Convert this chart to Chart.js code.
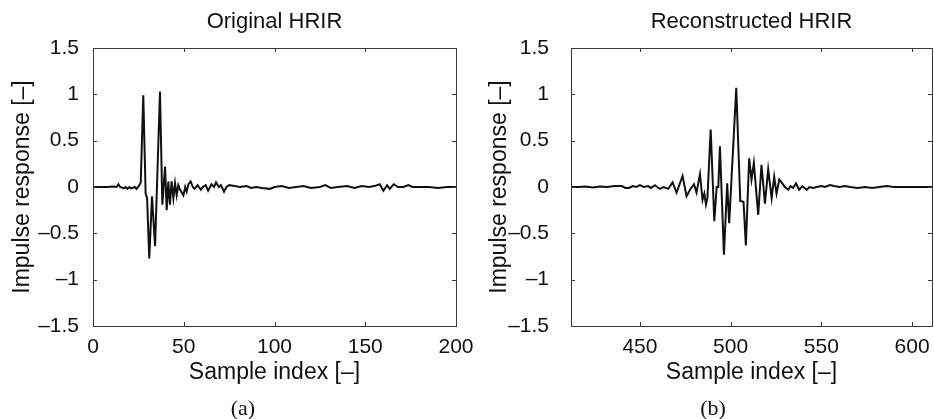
<!DOCTYPE html>
<html>
<head>
<meta charset="utf-8">
<script src="https://cdn.jsdelivr.net/npm/chart.js@4"></script>
<style>
  body { margin: 0; background: #fff; }
  #wrap { position: relative; width: 934px; height: 419px; overflow: hidden; }
  canvas { position: absolute; top: 0; }
  .cap { position: absolute; top: 397px; width: 100px; text-align: center;
         font: 22px/22px "Liberation Serif", "DejaVu Serif", serif; color: #111; }
</style>
</head>
<body>
<div id="wrap">
  <canvas id="left" width="480" height="419" style="left:0"></canvas>
  <canvas id="right" width="467" height="419" style="left:467px"></canvas>
  <div class="cap" style="left:193px">(a)</div>
  <div class="cap" style="left:663px">(b)</div>
</div>
<script>
// values (sample index, impulse response)
const origIdx = [0, 8, 11, 13, 14, 15, 17, 18, 19, 20, 21, 23, 24, 25.5, 26.3, 27.7, 29, 29.8, 31, 32.5,
    34.2, 36.9, 38.2, 39.7, 40.6, 41.5, 42.4, 43.3, 44.3, 45.2, 46.1, 47, 48, 49.8, 50.8, 51.6, 52.6,
    53.8, 55, 56, 57.6, 59.4, 60.5, 62.1, 63.4, 65.3, 66.7, 67.8, 69.4, 70.5, 72.2, 73.5, 75, 78, 81,
    84.7, 87, 90, 93, 97.5, 100, 104, 108, 112, 116, 120, 125, 128, 131, 135, 140, 144, 148, 152, 155,
    158, 160, 162, 163.5, 165.7, 168, 171, 173.8, 176, 180, 185, 190, 195, 200];
const origVal = [0, 0, 0.005, 0, 0.03, 0, -0.015, 0, -0.02, 0, -0.015, 0, -0.02, 0.02, 0.05, 0.99, -0.07, -0.12, -0.77, -0.1,
    -0.64, 1.03, -0.19, 0.22, -0.25, 0.06, -0.19, 0.06, -0.12, 0.04, -0.09, 0.02, -0.03, -0.09, 0, -0.05, 0.03,
    0.06, 0, -0.02, 0.02, -0.03, 0, 0.02, -0.04, 0.03, 0, 0.05, 0, 0.02, -0.05, 0, 0.02, 0.01, 0,
    0.01, -0.01, 0, -0.01, -0.02, 0, 0.01, -0.01, 0, 0.01, -0.01, 0, 0.02, -0.01, 0, 0.01, -0.01, 0.01, 0, 0.01,
    0.03, -0.04, 0.02, -0.02, 0.03, 0, 0, 0.02, 0, 0, 0, -0.01, 0, 0];

const recIdx = [412, 416, 420, 424, 428, 432, 436, 440, 442, 444, 446, 448, 450, 452, 454.6, 456, 458.3, 459.5,
    461, 463, 465.6, 468, 470.2, 473.5, 475.7, 477.6, 479.8, 481.2, 483.1, 484.5, 485.5, 486.4, 487.2, 489,
    491, 492.3, 493.2, 494.1, 496.3, 498.1, 499.2, 503.1, 505.3, 507.1, 508.4, 510.2, 511.5, 512.8, 515.2,
    517, 518.9, 520.7, 522.6, 524, 525.3, 526.8, 528.1, 529.9, 531.8, 533, 534.5, 536, 537.8, 539.5, 541.9,
    543.5, 545.5, 547.5, 550, 552, 554.7, 557, 560, 563, 566, 570, 574, 578, 582, 586, 590, 595, 600, 605, 611];
const recVal = [0, 0, 0.005, -0.005, 0.005, 0, 0.01, 0.01, -0.01, -0.01, 0.01, 0, 0.02, 0, 0.01, -0.01, 0.02, 0,
    -0.02, 0, -0.02, 0.05, -0.06, 0.12, -0.1, -0.03, 0.03, -0.06, 0.14, -0.14, -0.07, -0.19, -0.12, 0.62,
    -0.37, 0, 0, 0.44, -0.73, 0.04, -0.39, 1.07, -0.15, -0.16, -0.63, 0.31, 0.08, 0.26, -0.3,
    0.24, -0.18, 0.19, -0.12, 0.11, -0.07, 0.08, 0.05, 0, -0.03, 0.01, -0.01, 0.04, -0.03, 0.01, -0.03,
    0, -0.01, 0, 0.01, 0, 0.02, 0.01, 0, 0.01, 0, -0.01, 0, -0.01, 0, 0.01, 0, 0, 0, 0, 0];

const origTicksX = [0, 50, 100, 150, 200];
const recTicksX = [450, 500, 550, 600];
const yTicks = [-1.5, -1, -0.5, 0, 0.5, 1, 1.5];
const yTickLabels = ['\u20131.5', '\u20131', '\u20130.5', '0', '0.5', '1', '1.5'];

const FONT = '"Liberation Sans", Arial, Helvetica, sans-serif';

// MATLAB style box with inward ticks on all four sides
const framePlugin = {
    id: 'frame',
    afterDraw(chart) {
        const ctx = chart.ctx;
        const a = chart.chartArea;
        const sx = chart.scales.x, sy = chart.scales.y;
        ctx.save();
        ctx.strokeStyle = '#3a3a3a';
        ctx.lineWidth = 1;
        ctx.strokeRect(Math.round(a.left) + 0.5, Math.round(a.top) + 0.5,
            Math.round(a.right - a.left), Math.round(a.bottom - a.top));
        ctx.beginPath();
        sx.ticks.forEach(t => {
            const px = Math.round(sx.getPixelForValue(t.value)) + 0.5;
            ctx.moveTo(px, a.bottom); ctx.lineTo(px, a.bottom - 4);
            ctx.moveTo(px, a.top); ctx.lineTo(px, a.top + 4);
        });
        sy.ticks.forEach(t => {
            const py = Math.round(sy.getPixelForValue(t.value)) + 0.5;
            ctx.moveTo(a.left, py); ctx.lineTo(a.left + 4, py);
            ctx.moveTo(a.right, py); ctx.lineTo(a.right - 4, py);
        });
        ctx.stroke();
        ctx.restore();
    }
};

function makeChart(id, opts) {
    const points = opts.idx.map((x, i) => ({x: x, y: opts.val[i]}));
    return new Chart(document.getElementById(id), {
        type: 'line',
        data: {
            datasets: [{
                data: points,
                borderColor: '#111',
                borderWidth: 2,
                pointRadius: 0,
                tension: 0,
                fill: false
            }]
        },
        options: {
            responsive: false,
            animation: false,
            devicePixelRatio: 1,
            layout: {padding: {left: 0, right: opts.padRight, top: 0, bottom: 22}},
            plugins: {legend: {display: false}, tooltip: {enabled: false}},
            scales: {
                x: {
                    type: 'linear', position: 'bottom',
                    min: opts.min, max: opts.max,
                    afterBuildTicks: s => { s.ticks = opts.ticksX.map(v => ({value: v})); },
                    afterFit: s => { s.height = 71; },
                    grid: {display: false},
                    border: {display: false},
                    ticks: {color: '#111', padding: 1, font: {family: FONT, size: 21}, maxRotation: 0},
                    title: {display: true, text: 'Sample index [\u2013]', color: '#111',
                        font: {family: FONT, size: 23}, padding: {top: 0, bottom: 11}}
                },
                xTop: {
                    type: 'linear', position: 'top',
                    min: opts.min, max: opts.max,
                    afterFit: s => { s.height = 48; },
                    grid: {display: false},
                    border: {display: false},
                    ticks: {display: false},
                    title: {display: true, text: opts.title, color: '#111',
                        font: {family: FONT, size: 22}, padding: {top: 9, bottom: 0}}
                },
                y: {
                    type: 'linear', position: 'left',
                    min: -1.5, max: 1.5,
                    afterBuildTicks: s => { s.ticks = yTicks.map(v => ({value: v})); },
                    afterFit: s => { s.width = opts.yWidth; },
                    grid: {display: false},
                    border: {display: false},
                    ticks: {color: '#111', padding: opts.yPad, font: {family: FONT, size: 21},
                        callback: (v, i) => yTickLabels[i]},
                    title: {display: true, text: 'Impulse response [\u2013]', color: '#111',
                        font: {family: FONT, size: 23}, padding: {top: opts.yTitlePad, bottom: 0}}
                }
            }
        },
        plugins: [framePlugin]
    });
}

makeChart('left', {
    idx: origIdx, val: origVal, min: 0, max: 200, ticksX: origTicksX,
    title: 'Original HRIR', padRight: 24, yWidth: 93, yPad: 6, yTitlePad: 9
});
makeChart('right', {
    idx: recIdx, val: recVal, min: 412, max: 611, ticksX: recTicksX,
    title: 'Reconstructed HRIR', padRight: 2, yWidth: 104, yPad: 14, yTitlePad: 19
});
</script>
</body>
</html>
